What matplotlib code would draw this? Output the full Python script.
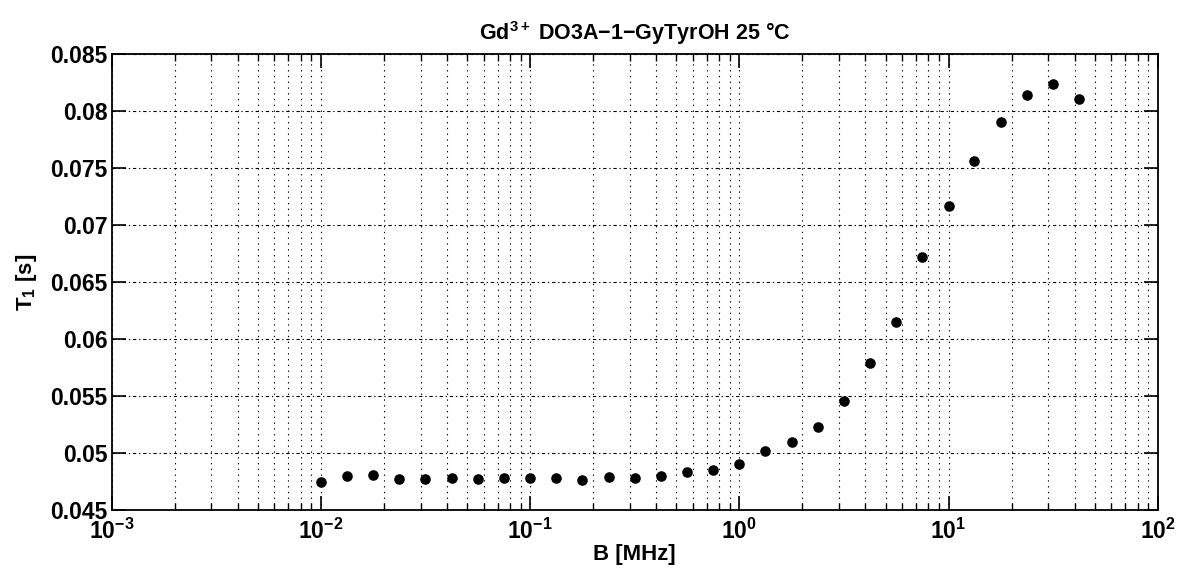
import matplotlib
matplotlib.use("Agg")
import matplotlib.pyplot as plt
from matplotlib.ticker import FixedLocator, FixedFormatter, LogLocator, NullFormatter

# Relaxation data: field B [MHz] and T1 [s]
field_mhz = [0.01, 0.0133, 0.0178, 0.0237, 0.0316, 0.0422, 0.0562, 0.075,
             0.1, 0.133, 0.178, 0.237, 0.316, 0.422, 0.562, 0.75,
             1.0, 1.33, 1.78, 2.37, 3.16, 4.22, 5.62, 7.5,
             10.0, 13.3, 17.8, 23.7, 31.6, 42.2]
t1_s = [0.04752, 0.04802, 0.04808, 0.04774, 0.04772, 0.04781, 0.04774, 0.04781,
        0.04781, 0.04781, 0.04766, 0.04795, 0.04786, 0.04803, 0.04833, 0.04853,
        0.04906, 0.05020, 0.05100, 0.05231, 0.05461, 0.05789, 0.06152, 0.06719,
        0.07169, 0.07567, 0.07903, 0.08146, 0.08237, 0.08105]

y_ticks = [0.045, 0.05, 0.055, 0.06, 0.065, 0.07, 0.075, 0.08, 0.085]
y_tick_labels = ["0.045", "0.05", "0.055", "0.06", "0.065", "0.07", "0.075", "0.08", "0.085"]
x_ticks = [1e-3, 1e-2, 1e-1, 1e0, 1e1, 1e2]
x_tick_labels = [r"$\mathbf{10^{-3}}$", r"$\mathbf{10^{-2}}$", r"$\mathbf{10^{-1}}$",
                 r"$\mathbf{10^{0}}$", r"$\mathbf{10^{1}}$", r"$\mathbf{10^{2}}$"]

plt.rcParams["font.family"] = ["Liberation Sans", "DejaVu Sans"]
plt.rcParams["font.weight"] = "bold"
plt.rcParams["mathtext.fontset"] = "custom"
plt.rcParams["mathtext.rm"] = "Liberation Sans:bold"
plt.rcParams["mathtext.bf"] = "Liberation Sans:bold"
plt.rcParams["mathtext.it"] = "Liberation Sans:bold"

fig = plt.figure(figsize=(11.79, 5.72), dpi=100)
ax = fig.add_axes([0.0947, 0.1079, 0.982 - 0.0947, 0.905 - 0.1079])

ax.plot(field_mhz, t1_s, linestyle="none", marker="o", markersize=6.6,
        color="black", markeredgecolor="black", zorder=5)

ax.set_xscale("log")
ax.set_xlim(1e-3, 1e2)
ax.set_ylim(0.045, 0.085)

ax.xaxis.set_major_locator(FixedLocator(x_ticks))
ax.xaxis.set_major_formatter(FixedFormatter(x_tick_labels))
ax.xaxis.set_minor_locator(LogLocator(base=10, subs=[2, 3, 4, 5, 6, 7, 8, 9], numticks=20))
ax.xaxis.set_minor_formatter(NullFormatter())
ax.yaxis.set_major_locator(FixedLocator(y_ticks))
ax.yaxis.set_major_formatter(FixedFormatter(y_tick_labels))

# Grid: dotted verticals (major + minor), dash-dot horizontals
ax.grid(True, axis="x", which="both", color="black", linewidth=0.8,
        linestyle=(0, (1.2, 4.0)))
ax.grid(True, axis="y", which="major", color="black", linewidth=0.8,
        linestyle=(0, (3.0, 2.5, 1.2, 2.5)))

ax.tick_params(axis="both", which="major", direction="in", length=10, width=1.2,
               top=True, right=True, labelsize=16.5, colors="black")
ax.tick_params(axis="x", which="minor", direction="in", length=5, width=1.0,
               top=True, bottom=True)
ax.tick_params(axis="y", which="major", pad=3)
ax.tick_params(axis="x", which="major", pad=6)

for s in ax.spines.values():
    s.set_linewidth(1.3)
    s.set_color("black")

ax.set_title(r"Gd$^{\mathbf{3+}}$ DO3A$-$1$-$GyTyrOH 25 °C", fontsize=15.5,
             fontweight="bold", pad=10)
ax.set_xlabel("B [MHz]", fontsize=16, fontweight="bold", labelpad=0)
ax.set_ylabel(r"T$_{\mathbf{1}}$ [s]", fontsize=16, fontweight="bold", labelpad=8)

fig.savefig("out.png", dpi=100)
